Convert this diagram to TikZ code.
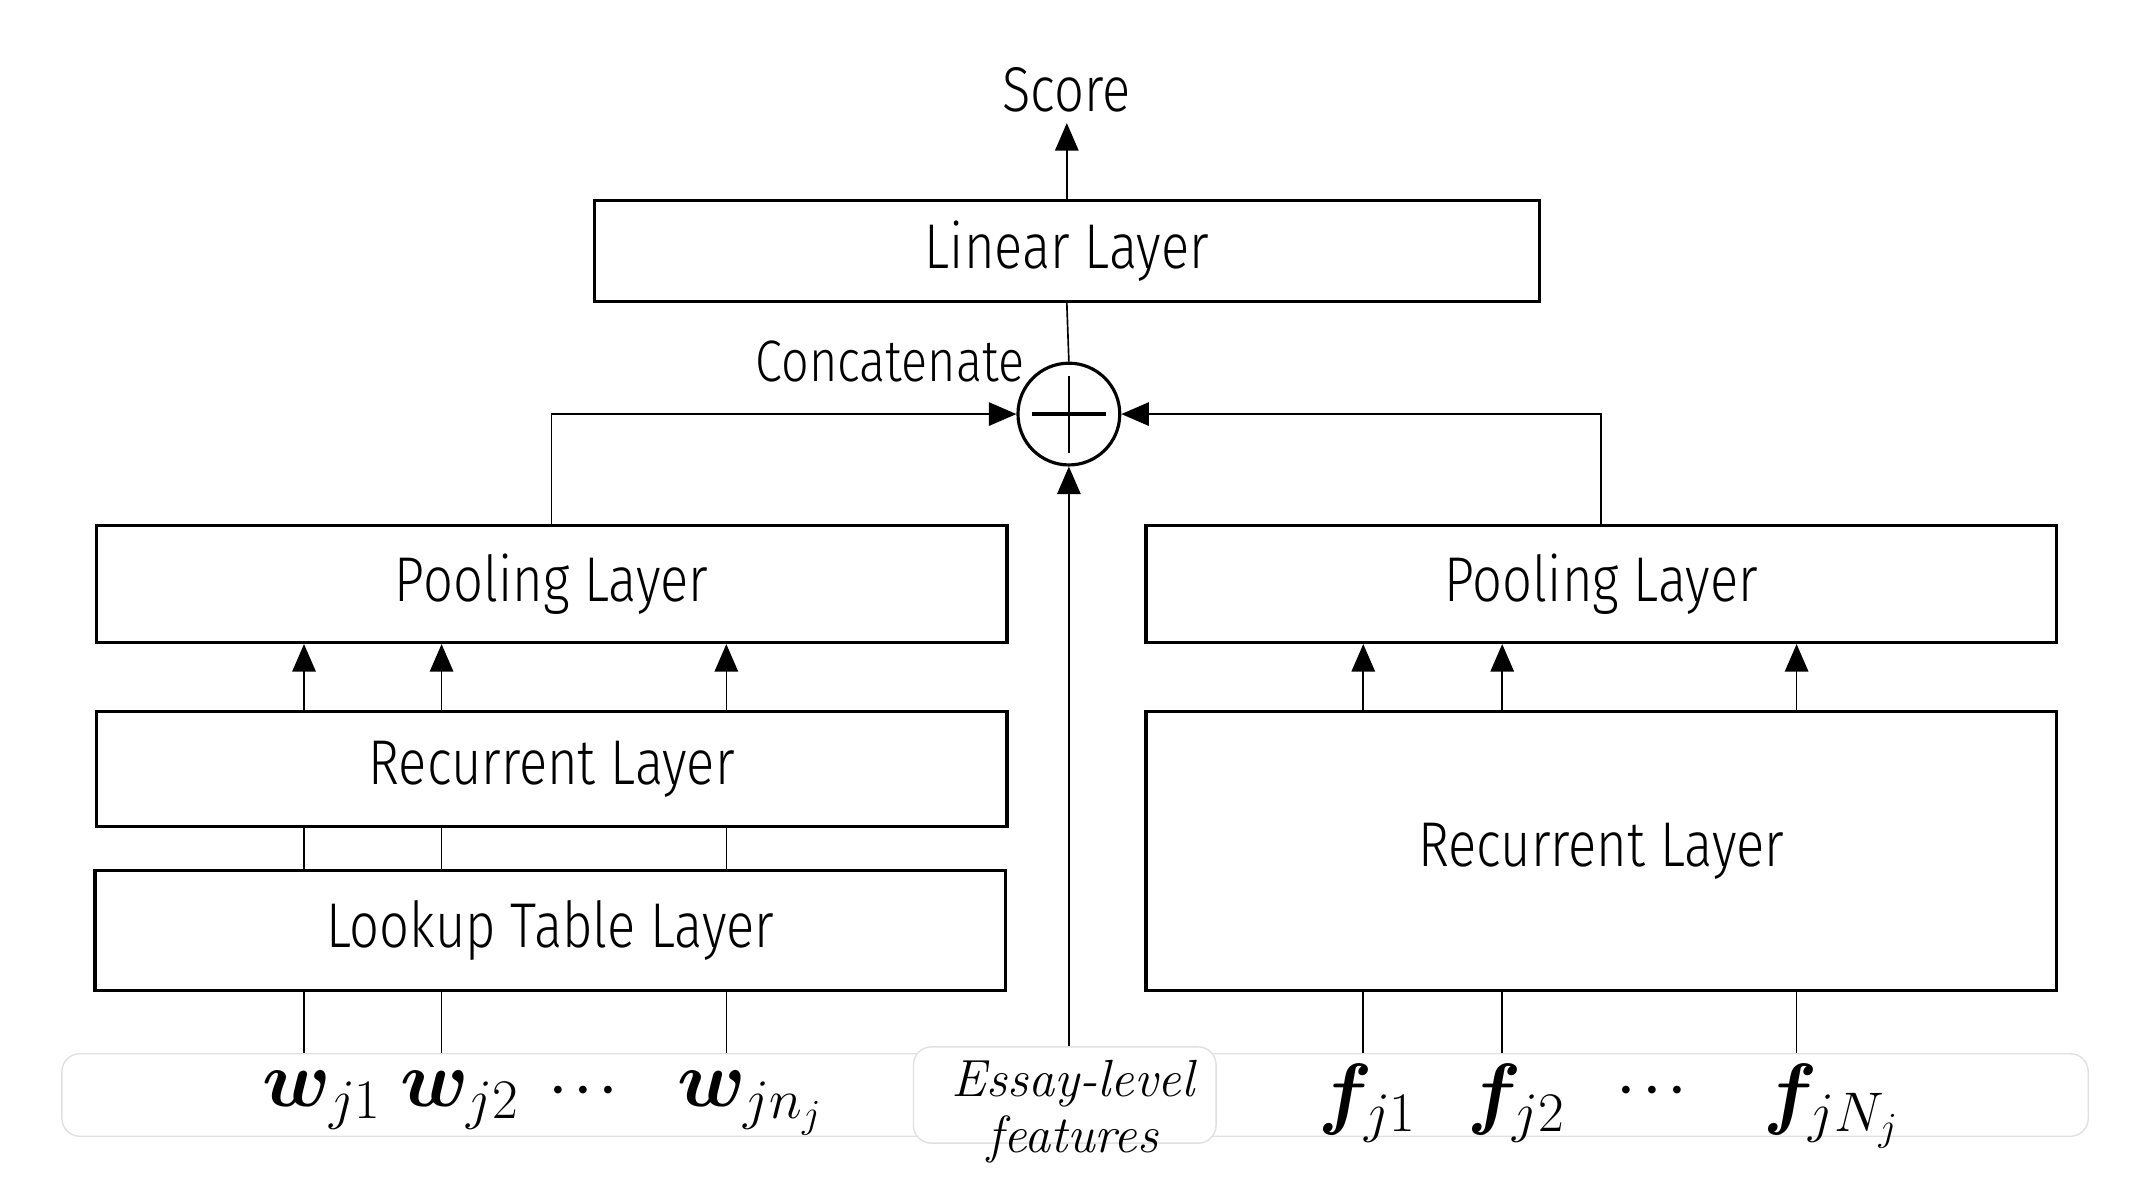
\RequirePackage{fix-cm}
\documentclass[tikz,border=0pt]{standalone}
\usepackage{bm}
\usepackage{fontspec}
\newfontfamily\lab{Fira Sans Light}[FakeStretch=0.83]
\usetikzlibrary{arrows.meta}
\begin{document}
\begin{tikzpicture}[x=1pt,y=-1pt,
  labfont/.style={font=\lab\fontsize{46}{50}\selectfont},
  layer/.style={draw, line width=2.4pt, inner sep=0pt, labfont, minimum width=662pt},
  conn/.style={line width=1.2pt},
  arr/.style={conn, -{Triangle[length=20pt,width=17pt]}},
  mathlab/.style={font=\fontsize{58}{60}\selectfont, inner sep=0pt},
  dotlab/.style={font=\fontsize{36}{38}\selectfont\boldmath, inner sep=0pt},
  strip/.style={draw=black!12, line width=1pt, rounded corners=13pt, fill=white, inner sep=0pt},
]
\useasboundingbox (0,0) rectangle (1560,875);
% input strip
\node[strip, minimum width=1473pt, minimum height=60pt] (strip) at (781.5,796) {};
\node[strip, minimum width=220pt, minimum height=70pt] (essay) at (774,796) {};
\node[align=center, inner sep=0pt, font=\fontsize{38}{41}\selectfont\itshape] (esstext) at (780,808) {Essay-level\\features};
% boxes
\node[layer, minimum width=687pt, minimum height=73pt] (lin) at (775.5,182.5) {Linear Layer};
\node[layer, minimum height=85pt] (lp) at (401,424.5) {Pooling Layer};
\node[layer, minimum height=84pt] (lr) at (401,559) {Recurrent Layer};
\node[layer, minimum height=87pt] (lk) at (400,676.5) {Lookup Table Layer};
\node[layer, minimum height=85pt] (rp) at (1164,424.5) {Pooling Layer};
\node[layer, minimum height=203pt] (rr) at (1164,618.5) {Recurrent Layer};
% concat
\node[circle, draw, line width=2.3pt, minimum size=74pt, inner sep=0pt] (cat) at (777,301) {};
\draw[line width=2.8pt] ([xshift=-27pt]cat.center) -- ([xshift=27pt]cat.center);
\draw[line width=1.8pt] ([yshift=28pt]cat.center) -- ([yshift=-28pt]cat.center);
\node[font=\lab\fontsize{42.5}{46}\selectfont, inner sep=0pt] (cattext) at (647,263) {Concatenate};
\node[labfont, inner sep=8pt] (score) at (775,65) {Score};
% connectors top
\draw[arr] (lin.north) -- (lin.north |- score.south);
\draw[conn] (lin.south) -- (cat.north);
\draw[arr] (lp.north) |- (cat.west);
\draw[arr] (rp.north) |- (cat.east);
\draw[arr] (cat.south |- essay.north) -- (cat.south);
% guides
\coordinate (g1) at (221,0);
\coordinate (g2) at (321,0);
\coordinate (g3) at (528,0);
\coordinate (h1) at (991,0);
\coordinate (h2) at (1092,0);
\coordinate (h3) at (1306,0);
\foreach \g in {g1,g2,g3} {
  \draw[arr] (lr.north -| \g) -- (lp.south -| \g);
  \draw[conn] (lk.north -| \g) -- (lr.south -| \g);
  \draw[conn] (strip.north -| \g) -- (lk.south -| \g);
}
\foreach \g in {h1,h2,h3} {
  \draw[arr] (rr.north -| \g) -- (rp.south -| \g);
  \draw[conn] (strip.north -| \g) -- (rr.south -| \g);
}
% labels
\node[mathlab] (w1) at (234,800) {$\bm{w}_{j1}$};
\node[mathlab] (w2) at (334,800) {$\bm{w}_{j2}$};
\node[dotlab] (wd) at (424,793) {$\cdots$};
\node[mathlab] (w3) at (545,802) {$\bm{w}_{jn_j}$};
\node[mathlab] (f1) at (994,802) {$\bm{f}_{j1}$};
\node[mathlab] (f2) at (1102,802) {$\bm{f}_{j2}$};
\node[dotlab] (fd) at (1201,793) {$\cdots$};
\node[mathlab] (f3) at (1331,804) {$\bm{f}_{jN_j}$};
\end{tikzpicture}
\end{document}
